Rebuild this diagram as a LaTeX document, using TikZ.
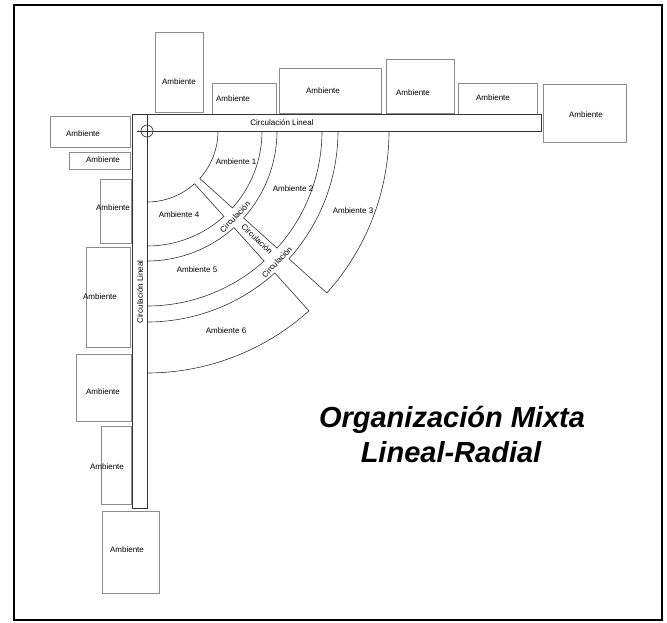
\documentclass[tikz,border=0pt]{standalone}
\usepackage{fontspec}
\setmainfont{Liberation Sans}
\usetikzlibrary{calc}
\tikzset{
  amb/.style={draw=black!45, line width=0.8pt},
  lin/.style={draw=black!80, line width=0.6pt},
  lbl/.style={font=\fontsize{8}{9}\selectfont, inner sep=0pt},
  title/.style={font=\fontsize{29}{35}\selectfont\bfseries\itshape, inner sep=0pt, anchor=base}
}
\begin{document}
\begin{tikzpicture}[x=1pt,y=-1pt]
\useasboundingbox (0,0) rectangle (667,622);
\fill[white] (0,0) rectangle (667,622);
\draw[line width=2.5pt] (14,5) rectangle (662,620);

% centre of the radial part
\coordinate (c) at (147,131);

% ambient rectangles (top row)
\draw[amb] (155,32) rectangle (203,112);
\draw[amb] (212,83) rectangle (276,114);
\draw[amb] (279,68) rectangle (381,113);
\draw[amb] (386,59) rectangle (454,113);
\draw[amb] (458,83) rectangle (537,114);
\draw[amb] (543,84) rectangle (626,142);
% left column
\draw[amb] (50,116) rectangle (130,147);
\draw[amb] (69,152) rectangle (130,169);
\draw[amb] (100,179) rectangle (131,243);
\draw[amb] (86,247) rectangle (130,347);
\draw[amb] (76,354) rectangle (131,421);
\draw[amb] (101,426) rectangle (131,504);
\draw[amb] (102,511) rectangle (159,593);

\node[lbl] (a1) at (179,82) {Ambiente};
\node[lbl] (a2) at (233,99) {Ambiente};
\node[lbl] (a3) at (323,91) {Ambiente};
\node[lbl] (a4) at (413,93) {Ambiente};
\node[lbl] (a5) at (493,98) {Ambiente};
\node[lbl] (a6) at (586,115) {Ambiente};
\node[lbl] (a7) at (83,134) {Ambiente};
\node[lbl] (a8) at (103,160) {Ambiente};
\node[lbl] (a9) at (113,208) {Ambiente};
\node[lbl] (a10) at (100,297) {Ambiente};
\node[lbl] (a11) at (103,392) {Ambiente};
\node[lbl] (a12) at (107,467) {Ambiente};
\node[lbl] (a13) at (127,550) {Ambiente};

% linear circulation bars
\draw[lin] (132,508) -- (132,114) -- (541,114) -- (541,131) -- (137,131);
\draw[lin] (147,114) -- (147,508) -- (132,508);
\draw[lin] (c) circle[radius=6];
\node[lbl] (clh) at (282,123) {Circulación Lineal};
\node[lbl, rotate=90] (clv) at (140,292) {Circulación Lineal};

% radial sectors
\foreach \ri/\ro in {71/115, 130/175, 191/242}{
  \draw[lin] ($(c)+(0:\ri)$) arc[start angle=0, end angle=42, radius=\ri]
     -- ($(c)+(42:\ro)$) arc[start angle=42, end angle=0, radius=\ro];
  \draw[lin] ($(c)+(90:\ri)$) arc[start angle=90, end angle=48, radius=\ri]
     -- ($(c)+(48:\ro)$) arc[start angle=48, end angle=90, radius=\ro];
}

\node[lbl] (r1) at (236,162) {Ambiente 1};
\node[lbl] (r2) at (293,189) {Ambiente 2};
\node[lbl] (r3) at (353,211) {Ambiente 3};
\node[lbl] (r4) at (179,215) {Ambiente 4};
\node[lbl] (r5) at (197,270) {Ambiente 5};
\node[lbl] (r6) at (226,331) {Ambiente 6};

\node[lbl, rotate=46] (cr1) at (235,217) {Circulación};
\node[lbl, rotate=-44] (cr2) at (257,239) {Circulación};
\node[lbl, rotate=46] (cr3) at (277,262) {Circulación};

% title
\node[title] (t1) at (452,427) {Organización Mixta};
\node[title] (t2) at (451,462) {Lineal-Radial};
\end{tikzpicture}
\end{document}
